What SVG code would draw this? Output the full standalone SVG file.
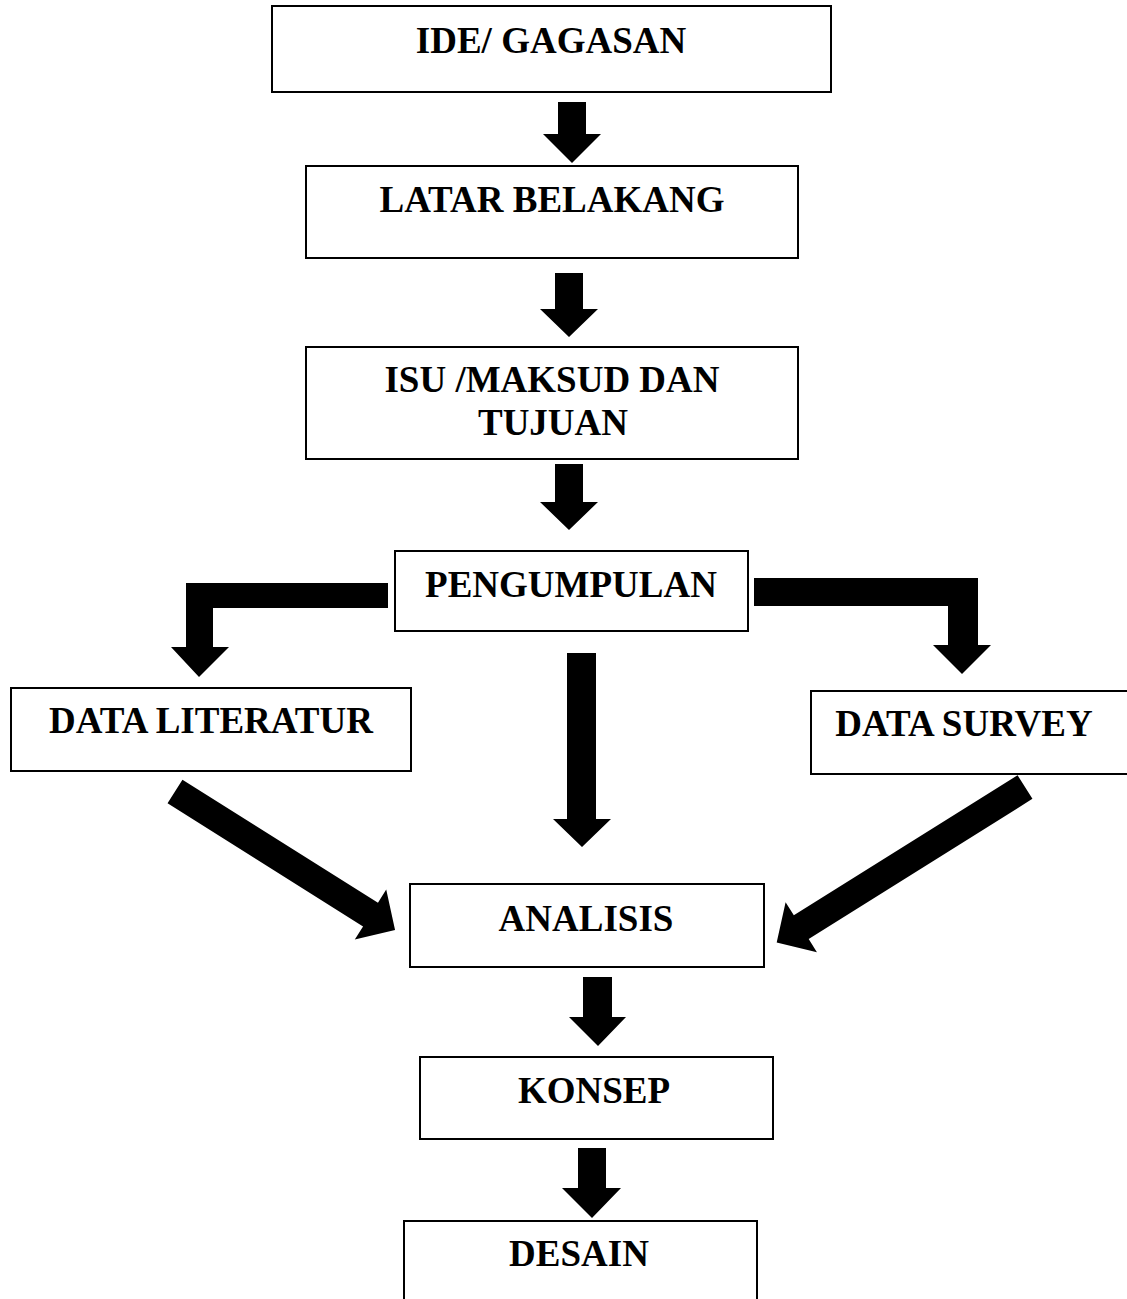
<svg xmlns="http://www.w3.org/2000/svg" width="1127" height="1299" viewBox="0 0 1127 1299">
<style>
.box{fill:#fff;stroke:#000;stroke-width:2}
.lbl{font-family:"Liberation Serif","Times New Roman",serif;font-weight:bold;font-size:37px;fill:#000;text-anchor:middle}
.arr{fill:#000;stroke:none}
</style>
<defs>
<polygon id="diag" points="0,-14 0,14 0,14"/>
</defs>
<rect width="1127" height="1299" fill="#fff"/>
<g id="connectors">
<polygon class="arr" points="558,102 586,102 586,134 601,134 572,163 543,134 558,134"/>
<polygon class="arr" points="555,273 583,273 583,309 598,309 569,337 540,309 555,309"/>
<polygon class="arr" points="555,464 583,464 583,502 598,502 569,530 540,502 555,502"/>
<polygon class="arr" points="567,653 596,653 596,819 611,819 582,847 553,819 567,819"/>
<polygon class="arr" points="583,977 612,977 612,1017 626,1017 598,1046 569,1017 583,1017"/>
<polygon class="arr" points="578,1148 606,1148 606,1188 621,1188 592,1218 562,1188 578,1188"/>
<path class="arr" d="M388,583 L186,583 L186,647 L171,647 L199,677 L229,647 L213,647 L213,608 L388,608 Z"/>
<path class="arr" d="M754,578 L978,578 L978,645 L991,645 L962,674 L933,645 L948,645 L948,606 L754,606 Z"/>
<polygon class="arr" transform="translate(175,791.5) rotate(32.18)" points="0,-14 231,-14 231,-29.5 260,0 231,29.5 231,14 0,14"/>
<polygon class="arr" transform="translate(1025,787) rotate(147.94)" points="0,-14 264,-14 264,-29.5 293,0 264,29.5 264,14 0,14"/>
</g>
<g id="n1"><rect class="box" x="272" y="6" width="559" height="86"/><text class="lbl" x="551" y="53">IDE/ GAGASAN</text></g>
<g id="n2"><rect class="box" x="306" y="166" width="492" height="92"/><text class="lbl" x="552" y="212">LATAR BELAKANG</text></g>
<g id="n3"><rect class="box" x="306" y="347" width="492" height="112"/><text class="lbl" x="552" y="392">ISU /MAKSUD DAN</text><text class="lbl" x="553" y="435">TUJUAN</text></g>
<g id="n4"><rect class="box" x="395" y="551" width="353" height="80"/><text class="lbl" x="571" y="597">PENGUMPULAN</text></g>
<g id="n5"><rect class="box" x="11" y="688" width="400" height="83"/><text class="lbl" x="211" y="733">DATA LITERATUR</text></g>
<g id="n6"><rect class="box" x="811" y="691" width="330" height="83"/><text class="lbl" x="964" y="736">DATA SURVEY</text></g>
<g id="n7"><rect class="box" x="410" y="884" width="354" height="83"/><text class="lbl" x="586" y="931">ANALISIS</text></g>
<g id="n8"><rect class="box" x="420" y="1057" width="353" height="82"/><text class="lbl" x="594" y="1103">KONSEP</text></g>
<g id="n9"><rect class="box" x="404" y="1221" width="353" height="100"/><text class="lbl" x="579" y="1266">DESAIN</text></g>
</svg>
